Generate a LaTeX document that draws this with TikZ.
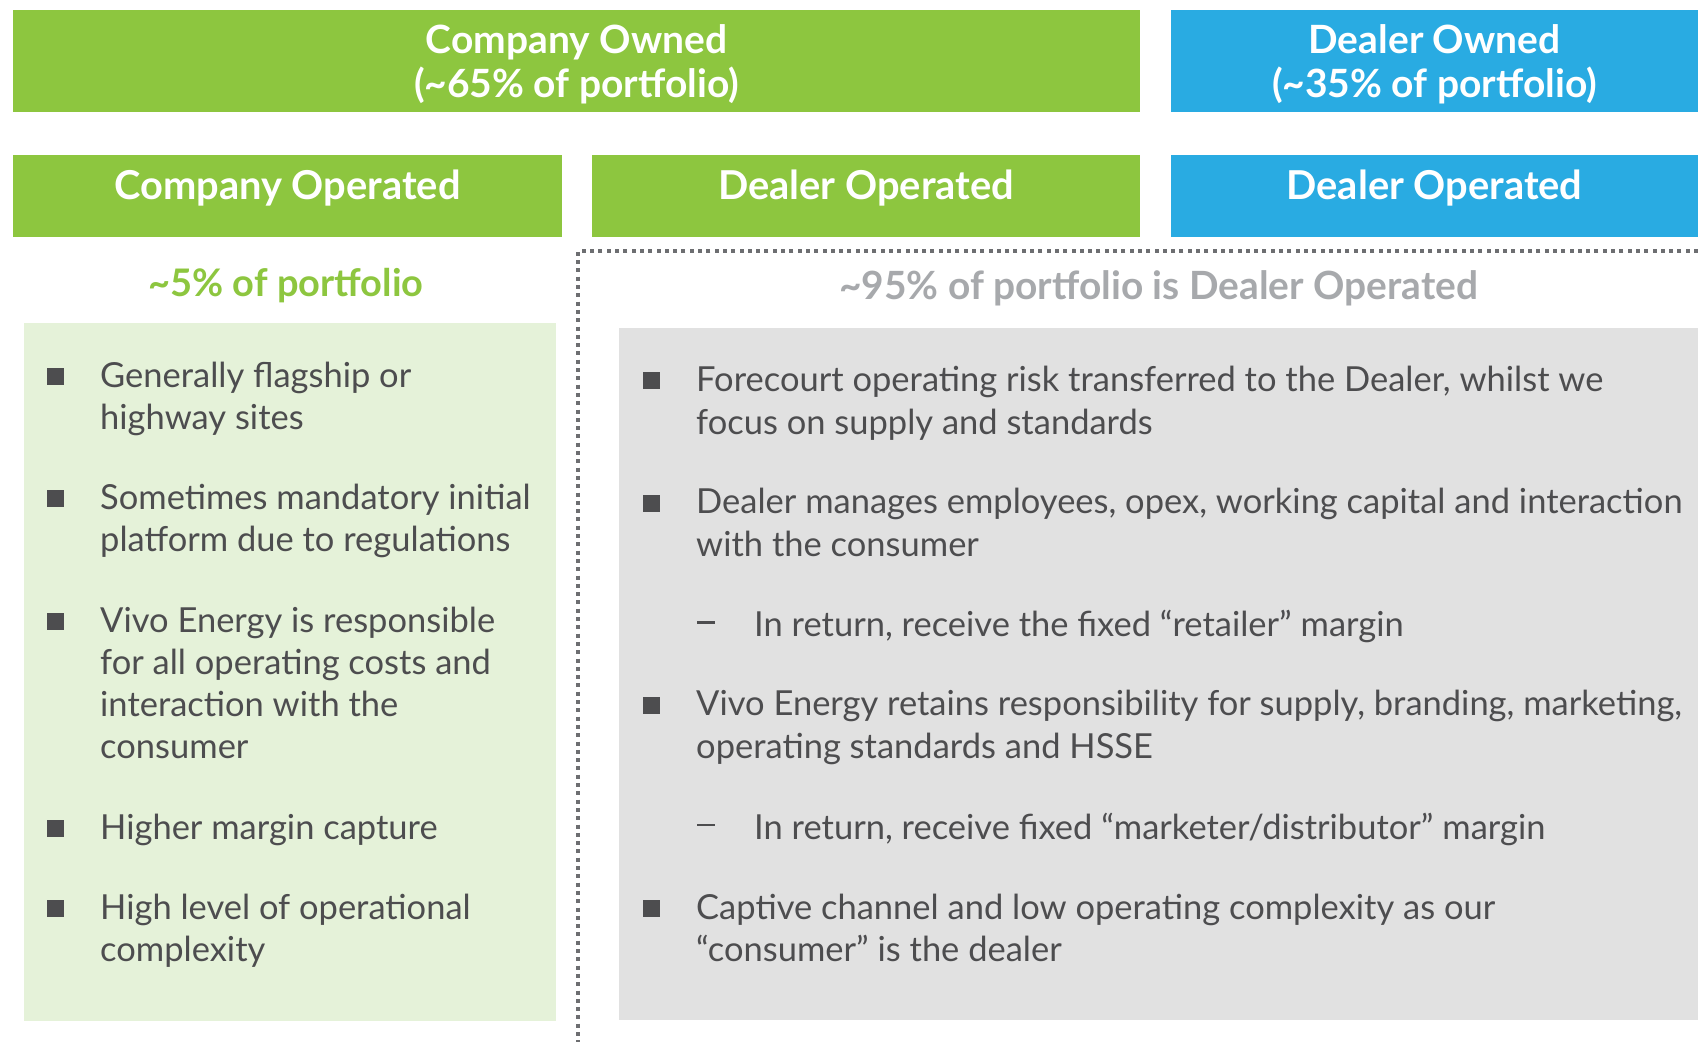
\documentclass[tikz,border=0pt]{standalone}
\usepackage{fontspec}
\setmainfont{Lato}

\definecolor{ownGreen}{HTML}{8DC63F}
\definecolor{ownBlue}{HTML}{29ABE2}
\definecolor{paleGreen}{HTML}{E5F2D9}
\definecolor{paleGray}{HTML}{E1E1E1}
\definecolor{bodyText}{HTML}{4D4D4F}
\definecolor{mutedText}{HTML}{A7A9AC}
\definecolor{dotLine}{HTML}{6D6E71}

% font size (pt) that sets #3 at width #2
\newlength\fitw
\newcommand\fitsize[3]{%
  \settowidth\fitw{\fontsize{10pt}{12pt}\selectfont #3}%
  \pgfmathsetmacro#1{10*#2/\fitw}}

% sizes fitted to the column widths
\AtBeginDocument{%
  \fitsize\bodyA{918.5}{Forecourt operating risk transferred to the Dealer, whilst we}%
  \fitsize\bodyB{980.4}{Dealer manages employees, opex, working capital and interaction}%
  \fitsize\bodyC{427.7}{Sometimes mandatory initial}%
  \pgfmathsetmacro\bodysz{(\bodyA+\bodyB+\bodyC)/3}%
  \fitsize\headA{345.5}{\bfseries Company Operated}%
  \fitsize\headB{296.7}{\bfseries Dealer Operated}%
  \pgfmathsetmacro\headsz{(\headA+\headB)/2}%
  \fitsize\topA{302}{\bfseries Company Owned}%
  \fitsize\topB{324}{\bfseries (\textasciitilde 65\% of portfolio)}%
  \pgfmathsetmacro\topsz{(\topA+\topB)/2}%
  \fitsize\subA{275}{\bfseries \textasciitilde 5\% of portfolio}%
  \fitsize\subB{639}{\bfseries \textasciitilde 95\% of portfolio is Dealer Operated}%
}

\tikzset{
  band/.style={fill=#1, draw=none, inner sep=0pt, outer sep=0pt},
  headline/.style={anchor=base, inner sep=0pt, text=white,
    font=\fontsize{#1 pt}{#1 pt}\selectfont\bfseries},
  bodyline/.style={anchor=base west, inner sep=0pt, text=bodyText,
    font=\fontsize{\bodysz pt}{42pt}\selectfont},
  bulletsq/.style={fill=bodyText, draw=none, inner sep=0pt,
    minimum width=17pt, minimum height=17pt},
  subdash/.style={fill=bodyText, draw=none, inner sep=0pt,
    minimum width=18pt, minimum height=2.4pt},
  dotframe/.style={draw=dotLine, line width=4pt, dash pattern=on 4pt off 4.3pt},
}

\begin{document}
\begin{tikzpicture}[x=1pt, y=-1pt]
  % page frame
  \path[use as bounding box] (0,0) rectangle (1698,1042);
  \fill[white] (0,0) rectangle (1698,1042);

  % ownership bands
  \node[band=ownGreen, minimum width=1127pt, minimum height=102pt] (own1) at (576.5,61) {};
  \node[band=ownBlue, minimum width=527pt, minimum height=102pt] (own2) at (1434.5,61) {};
  \node[headline=\topsz] (own1a) at (576.5,53.5) {Company Owned};
  \node[headline=\topsz] (own1b) at (576.5,97) {(\textasciitilde 65\% of portfolio)};
  \node[headline=\topsz] (own2a) at (1434.5,53.5) {Dealer Owned};
  \node[headline=\topsz] (own2b) at (1434.5,97) {(\textasciitilde 35\% of portfolio)};

  % operation bands
  \node[band=ownGreen, minimum width=549pt, minimum height=82pt] (op1) at (287.5,196) {};
  \node[band=ownGreen, minimum width=548pt, minimum height=82pt] (op2) at (866,196) {};
  \node[band=ownBlue, minimum width=527pt, minimum height=82pt] (op3) at (1434.5,196) {};
  \node[headline=\headsz] (op1t) at (287.5,199.5) {Company Operated};
  \node[headline=\headsz] (op2t) at (866,199.5) {Dealer Operated};
  \node[headline=\headsz] (op3t) at (1434.5,199.5) {Dealer Operated};

  % dotted frame round the dealer operated share
  \coordinate (dright) at (1698,251);
  \coordinate (dcorner) at (578.3,251);
  \coordinate (dbottom) at (578.3,1042);
  \draw[dotframe] (dright) -- (dcorner) -- (dbottom);

  % share captions
  \node[anchor=base, inner sep=0pt, text=ownGreen,
    font=\fontsize{\subA pt}{\subA pt}\selectfont\bfseries] (cap1) at (286,296)
    {\textasciitilde 5\% of portfolio};
  \node[anchor=base, inner sep=0pt, text=mutedText,
    font=\fontsize{\subB pt}{\subB pt}\selectfont\bfseries] (cap2) at (1158.7,299.5)
    {\textasciitilde 95\% of portfolio is Dealer Operated};

  % panels
  \node[band=paleGreen, minimum width=532pt, minimum height=698pt] (panL) at (290,672) {};
  \node[band=paleGray, minimum width=1079pt, minimum height=692pt] (panR) at (1158.5,674) {};

  % company operated points
  \node[bulletsq] (bl1) at (55.5,376.5) {};
  \node[bodyline] (tl1a) at (100,387) {Generally flagship or};
  \node[bodyline] (tl1b) at (100,429) {highway sites};
  \node[bulletsq] (bl2) at (55.5,498.5) {};
  \node[bodyline] (tl2a) at (100,509) {Sometimes mandatory initial};
  \node[bodyline] (tl2b) at (100,551) {platform due to regulations};
  \node[bulletsq] (bl3) at (55.5,621.5) {};
  \node[bodyline] (tl3a) at (100,632) {Vivo Energy is responsible};
  \node[bodyline] (tl3b) at (100,674) {for all operating costs and};
  \node[bodyline] (tl3c) at (100,716) {interaction with the};
  \node[bodyline] (tl3d) at (100,758) {consumer};
  \node[bulletsq] (bl4) at (55.5,828.5) {};
  \node[bodyline] (tl4a) at (100,839) {Higher margin capture};
  \node[bulletsq] (bl5) at (55.5,908.5) {};
  \node[bodyline] (tl5a) at (100,919) {High level of operational};
  \node[bodyline] (tl5b) at (100,961) {complexity};

  % dealer operated points
  \node[bulletsq] (br1) at (651.3,380.7) {};
  \node[bodyline] (tr1a) at (696,391.5) {Forecourt operating risk transferred to the Dealer, whilst we};
  \node[bodyline] (tr1b) at (696,434) {focus on supply and standards};
  \node[bulletsq] (br2) at (651.3,503) {};
  \node[bodyline] (tr2a) at (696,513.5) {Dealer manages employees, opex, working capital and interaction};
  \node[bodyline] (tr2b) at (696,556) {with the consumer};
  \node[subdash] (dr2) at (705.5,622.5) {};
  \node[bodyline] (tr2s) at (754,636.5) {In return, receive the fixed “retailer” margin};
  \node[bulletsq] (br3) at (651.3,705) {};
  \node[bodyline] (tr3a) at (696,715.5) {Vivo Energy retains responsibility for supply, branding, marketing,};
  \node[bodyline] (tr3b) at (696,758) {operating standards and HSSE};
  \node[subdash] (dr3) at (705.5,825) {};
  \node[bodyline] (tr3s) at (754,839) {In return, receive fixed “marketer/distributor” margin};
  \node[bulletsq] (br4) at (651.3,908.5) {};
  \node[bodyline] (tr4a) at (696,919) {Captive channel and low operating complexity as our};
  \node[bodyline] (tr4b) at (696,961) {“consumer” is the dealer};
\end{tikzpicture}
\end{document}
